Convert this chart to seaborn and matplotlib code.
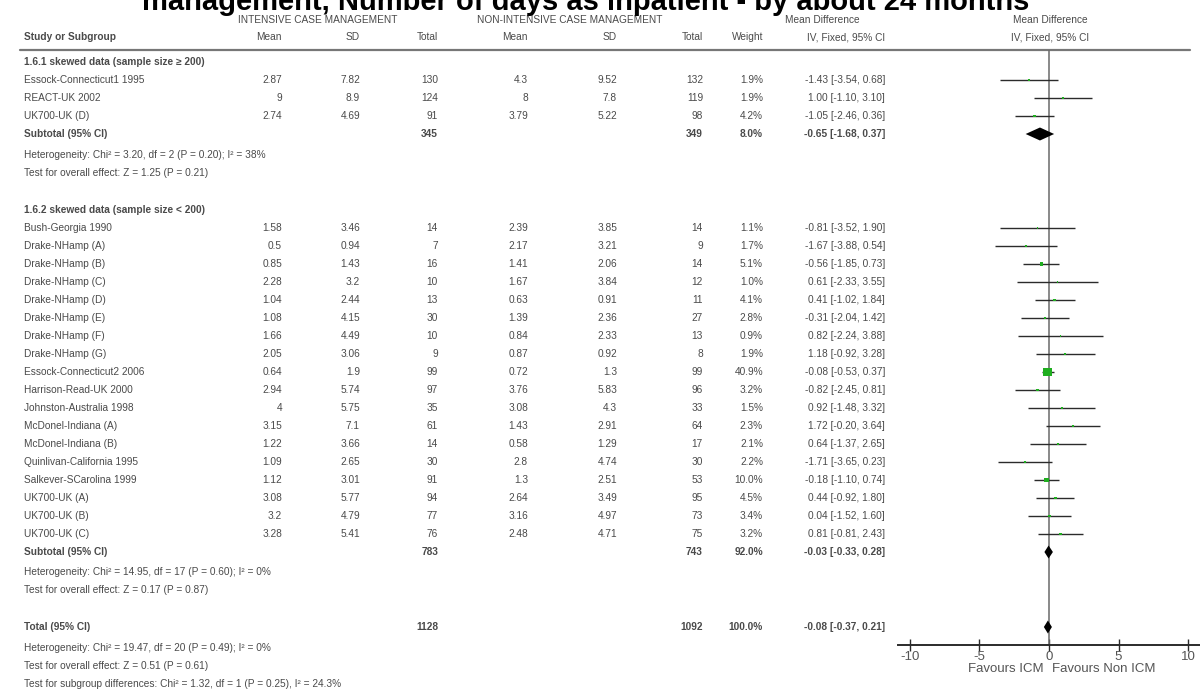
import matplotlib
matplotlib.use("Agg")
import matplotlib.pyplot as plt
from matplotlib import font_manager
import seaborn as sns
import pandas as pd

# ---- study data -------------------------------------------------------
study = [
    "Essock-Connecticut1 1995", "REACT-UK 2002", "UK700-UK (D)",
    "Bush-Georgia 1990", "Drake-NHamp (A)", "Drake-NHamp (B)", "Drake-NHamp (C)",
    "Drake-NHamp (D)", "Drake-NHamp (E)", "Drake-NHamp (F)", "Drake-NHamp (G)",
    "Essock-Connecticut2 2006", "Harrison-Read-UK 2000", "Johnston-Australia 1998",
    "McDonel-Indiana (A)", "McDonel-Indiana (B)", "Quinlivan-California 1995",
    "Salkever-SCarolina 1999", "UK700-UK (A)", "UK700-UK (B)", "UK700-UK (C)",
]
subgroup = [1, 1, 1] + [2] * 18
icm_mean = [2.87, 9, 2.74, 1.58, 0.5, 0.85, 2.28, 1.04, 1.08, 1.66, 2.05,
            0.64, 2.94, 4, 3.15, 1.22, 1.09, 1.12, 3.08, 3.2, 3.28]
icm_sd = [7.82, 8.9, 4.69, 3.46, 0.94, 1.43, 3.2, 2.44, 4.15, 4.49, 3.06,
          1.9, 5.74, 5.75, 7.1, 3.66, 2.65, 3.01, 5.77, 4.79, 5.41]
icm_n = [130, 124, 91, 14, 7, 16, 10, 13, 30, 10, 9,
         99, 97, 35, 61, 14, 30, 91, 94, 77, 76]
non_mean = [4.3, 8, 3.79, 2.39, 2.17, 1.41, 1.67, 0.63, 1.39, 0.84, 0.87,
            0.72, 3.76, 3.08, 1.43, 0.58, 2.8, 1.3, 2.64, 3.16, 2.48]
non_sd = [9.52, 7.8, 5.22, 3.85, 3.21, 2.06, 3.84, 0.91, 2.36, 2.33, 0.92,
          1.3, 5.83, 4.3, 2.91, 1.29, 4.74, 2.51, 3.49, 4.97, 4.71]
non_n = [132, 119, 98, 14, 9, 14, 12, 11, 27, 13, 8,
         99, 96, 33, 64, 17, 30, 53, 95, 73, 75]
weight = [1.9, 1.9, 4.2, 1.1, 1.7, 5.1, 1.0, 4.1, 2.8, 0.9, 1.9,
          40.9, 3.2, 1.5, 2.3, 2.1, 2.2, 10.0, 4.5, 3.4, 3.2]
md = [-1.43, 1.00, -1.05, -0.81, -1.67, -0.56, 0.61, 0.41, -0.31, 0.82, 1.18,
      -0.08, -0.82, 0.92, 1.72, 0.64, -1.71, -0.18, 0.44, 0.04, 0.81]
md_lo = [-3.54, -1.10, -2.46, -3.52, -3.88, -1.85, -2.33, -1.02, -2.04, -2.24, -0.92,
         -0.53, -2.45, -1.48, -0.20, -1.37, -3.65, -1.10, -0.92, -1.52, -0.81]
md_hi = [0.68, 3.10, 0.36, 1.90, 0.54, 0.73, 3.55, 1.84, 1.42, 3.88, 3.28,
         0.37, 0.81, 3.32, 3.64, 2.65, 0.23, 0.74, 1.80, 1.60, 2.43]

# pooled estimates: subgroup 1, subgroup 2, overall
pooled_label = ["Subtotal (95% CI)", "Subtotal (95% CI)", "Total (95% CI)"]
pooled_icm_n = [345, 783, 1128]
pooled_non_n = [349, 743, 1092]
pooled_weight = [8.0, 92.0, 100.0]
pooled_md = [-0.65, -0.03, -0.08]
pooled_lo = [-1.68, -0.33, -0.37]
pooled_hi = [0.37, 0.28, 0.21]

subgroup_titles = ["1.6.1 skewed data (sample size \u2265 200)",
                   "1.6.2 skewed data (sample size < 200)"]
heterogeneity = [
    ["Heterogeneity: Chi\u00b2 = 3.20, df = 2 (P = 0.20); I\u00b2 = 38%",
     "Test for overall effect: Z = 1.25 (P = 0.21)"],
    ["Heterogeneity: Chi\u00b2 = 14.95, df = 17 (P = 0.60); I\u00b2 = 0%",
     "Test for overall effect: Z = 0.17 (P = 0.87)"],
    ["Heterogeneity: Chi\u00b2 = 19.47, df = 20 (P = 0.49); I\u00b2 = 0%",
     "Test for overall effect: Z = 0.51 (P = 0.61)",
     "Test for subgroup differences: Chi\u00b2 = 1.32, df = 1 (P = 0.25), I\u00b2 = 24.3%"],
]
title = "management, Number of days as inpatient - by about 24 months"
axis_ticks = [-10, -5, 0, 5, 10]
favours = ["Favours ICM", "Favours Non ICM"]

# ---- style --------------------------------------------------------------
sns.set_theme(style="white")
names = {f.name for f in font_manager.fontManager.ttflist}
if "Liberation Sans Narrow" in names:
    body_font, body_size = "Liberation Sans Narrow", 8.3
else:
    body_font, body_size = "Liberation Sans", 7.3
plt.rcParams["font.family"] = [body_font, "DejaVu Sans"]
TXT = "#4a4a4a"
LINE = "#2b2b2b"

W, H = 1200, 689
fig = plt.figure(figsize=(W / 100, H / 100), dpi=100)
tab = fig.add_axes([0, 0, 1, 1])
tab.set_xlim(0, W)
tab.set_ylim(H, 0)
tab.axis("off")

# row layout (pixels from top)
PITCH = 18.0
y_sub1_title = 62
y_g1 = [80 + PITCH * i for i in range(3)]
y_sub1 = 134
y_het1 = [154.5, 172.5]
y_sub2_title = 210
y_g2 = [228 + PITCH * i for i in range(18)]
y_sub2 = 552
y_het2 = [572, 590]
y_total = 627
y_het3 = [648, 666, 684]
row_y = y_g1 + y_g2
pooled_y = [y_sub1, y_sub2, y_total]

# column anchors (right edges)
X_NAME = 24
X_COLS = [282, 360, 438, 528, 617, 703, 763, 885]


def t(x, y, s, ha="right", bold=False, size=None, color=TXT, **kw):
    tab.text(x, y, s, ha=ha, va="center", fontsize=size or body_size,
             fontweight="bold" if bold else "normal", color=color, **kw)


# headers
t(318, 20, "INTENSIVE CASE MANAGEMENT", ha="center")
t(570, 20, "NON-INTENSIVE CASE MANAGEMENT", ha="center")
t(822, 20, "Mean Difference", ha="center")
t(1050, 20, "Mean Difference", ha="center")
t(X_NAME, 37, "Study or Subgroup", ha="left", bold=True)
for x, s in zip(X_COLS, ["Mean", "SD", "Total", "Mean", "SD", "Total", "Weight",
                         "IV, Fixed, 95% CI"]):
    t(x, 37, s)
t(1050, 37, "IV, Fixed, 95% CI", ha="center")
tab.plot([20, 1190], [50, 50], color="#777777", lw=1.6)

# title (second line of a wrapped heading)
tab.text(586, 10, title, ha="center", va="baseline", fontsize=21,
         fontweight="bold", family="Liberation Sans", color="black")


def fmt_ci(m, lo, hi):
    return f"{m:.2f} [{lo:.2f}, {hi:.2f}]"


# subgroup titles
t(X_NAME, y_sub1_title, subgroup_titles[0], ha="left", bold=True)
t(X_NAME, y_sub2_title, subgroup_titles[1], ha="left", bold=True)

# study rows
for i, name in enumerate(study):
    y = row_y[i]
    t(X_NAME, y, name, ha="left")
    vals = [f"{icm_mean[i]:g}", f"{icm_sd[i]:g}", f"{icm_n[i]}",
            f"{non_mean[i]:g}", f"{non_sd[i]:g}", f"{non_n[i]}",
            f"{weight[i]:.1f}%", fmt_ci(md[i], md_lo[i], md_hi[i])]
    for x, s in zip(X_COLS, vals):
        t(x, y, s)

# pooled rows
for k in range(3):
    y = pooled_y[k]
    t(X_NAME, y, pooled_label[k], ha="left", bold=True)
    t(X_COLS[2], y, f"{pooled_icm_n[k]}", bold=True)
    t(X_COLS[5], y, f"{pooled_non_n[k]}", bold=True)
    t(X_COLS[6], y, f"{pooled_weight[k]:.1f}%", bold=True)
    t(X_COLS[7], y, fmt_ci(pooled_md[k], pooled_lo[k], pooled_hi[k]), bold=True)

for lines, ys in zip(heterogeneity, [y_het1, y_het2, y_het3]):
    for s, y in zip(lines, ys):
        t(X_NAME, y, s, ha="left")

# ---- forest panel -------------------------------------------------------
AX_L, AX_R, AX_B = 898, 1200, 645
fa = fig.add_axes([AX_L / W, (H - AX_B) / H, (AX_R - AX_L) / W, AX_B / H])
fa.set_facecolor("none")
fa.set_xlim(-10.86, 10.86)
fa.set_ylim(AX_B, 0)
for side in ["top", "left", "right"]:
    fa.spines[side].set_visible(False)
fa.spines["bottom"].set_color(LINE)
fa.spines["bottom"].set_linewidth(1.4)
fa.set_yticks([])
fa.set_xticks(axis_ticks)
fa.set_xticklabels([str(v) for v in axis_ticks])
fa.tick_params(axis="x", direction="inout", length=9, width=1, color=LINE,
               labelsize=9.5, labelcolor="#555555", pad=0, bottom=True)
fa.grid(False)

# line of no effect
fa.vlines(0, 50, AX_B, color="#6a6a6a", lw=1.1)

df = pd.DataFrame({"md": md, "lo": md_lo, "hi": md_hi, "w": weight, "y": row_y})
fa.hlines(df["y"], df["lo"], df["hi"], color=LINE, lw=1.0)
sns.scatterplot(data=df, x="md", y="y", size="w", sizes=(1.0, 40.0),
                size_norm=(0.9, 40.9), marker="s", color="#1fae1f",
                edgecolor="none", legend=False, ax=fa, zorder=3)
fa.set_xlabel("")
fa.set_ylabel("")

for m, lo, hi, y in zip(pooled_md, pooled_lo, pooled_hi, pooled_y):
    fa.fill([lo, m, hi, m], [y, y - 6.5, y, y + 6.5], color="black", lw=0, zorder=4)

fa.text(-0.4, 669, favours[0], ha="right", va="center", fontsize=9.5,
        color="#555555", clip_on=False)
fa.text(0.25, 669, favours[1], ha="left", va="center", fontsize=9.5,
        color="#555555", clip_on=False)

fig.savefig("out.png", dpi=100, facecolor="white")
